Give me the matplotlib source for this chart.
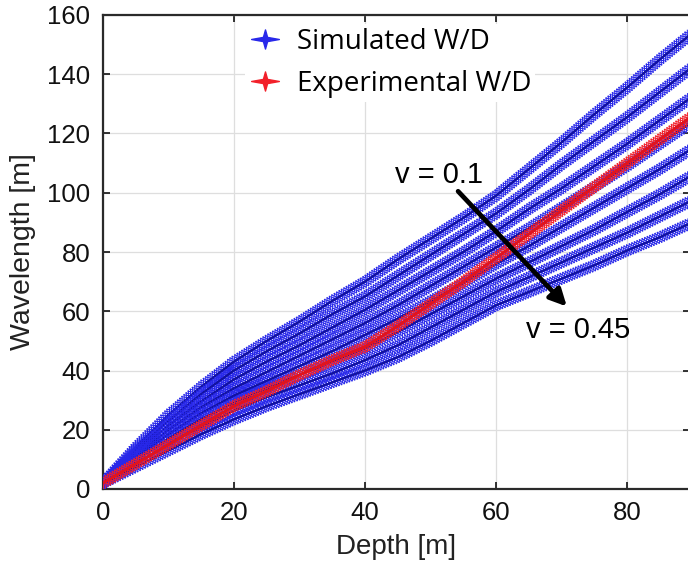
import numpy as np
import matplotlib
matplotlib.use("Agg")
import matplotlib.pyplot as plt
from matplotlib.path import Path
from matplotlib.lines import Line2D
import matplotlib.patheffects as pe

# ---------------- data ----------------
depth = [0, 5, 10, 15, 20, 25, 30, 35, 40, 45, 50, 55, 60, 65, 70, 75, 80, 85, 90]

sim_v010 = [2, 14, 25, 34.5, 43, 50, 56.5, 63.5, 70, 77.5, 84.5, 91.5, 99, 108, 117, 126.5, 135.5, 145, 154]
sim_v015 = [2, 13, 23, 32, 40, 46.5, 52.5, 59, 65, 72, 79, 86, 93, 101, 109.5, 117.5, 125.5, 134, 142.5]
sim_v020 = [2, 12, 21.5, 29.5, 37, 43, 48.5, 54.5, 60.5, 67, 73.5, 80, 87, 94.5, 101.5, 109, 116.5, 124.5, 132.5]
sim_v025 = [2, 11, 20, 27.5, 34, 39.5, 45, 50.5, 56, 62, 68.5, 75, 81.5, 88, 95, 102, 109, 116.5, 124]
sim_v030 = [2, 10.5, 18.5, 25.5, 31.5, 36.5, 41.5, 46.5, 52, 57.5, 63.5, 69.5, 76, 82, 88.5, 95, 101.5, 108, 115]
sim_v035 = [2, 9.5, 17, 23.5, 29, 34, 38.5, 43, 47.5, 53, 59, 65, 71, 76.5, 82, 87.5, 93.5, 99.5, 106]
sim_v040 = [2, 8.5, 15, 21, 26.5, 31, 35, 39, 43.5, 48.5, 54.5, 60.5, 66.5, 71.5, 76.5, 81.5, 86.5, 92, 97.5]
sim_v045 = [2, 7.5, 13, 18.5, 23.5, 28, 32, 36, 40, 44.5, 50, 56, 62, 66.5, 71, 75.5, 80.5, 85, 90]
simulated = [sim_v010, sim_v015, sim_v020, sim_v025, sim_v030, sim_v035, sim_v040, sim_v045]

experimental = [2, 8.5, 15, 21.5, 28, 33, 38.5, 43.5, 48, 55, 62.5, 70, 78, 86, 94, 102, 110, 118, 126]

x_ticks = [0, 20, 40, 60, 80]
y_ticks = [0, 20, 40, 60, 80, 100, 120, 140, 160]

BLUE = "#2828ea"
BLUE_D = "#1212a0"
RED = "#f2202a"
RED_D = "#e0141e"

# ---------------- figure ----------------
fig = plt.figure(figsize=(6.88, 5.67), dpi=100)
ax = fig.add_axes([103 / 688, 78 / 567, (690 - 103) / 688, (489 - 15) / 567])

def band(color):
    kw = dict(spacing=2.0, length=2.5, linewidth=0.75, foreground=color)
    return [
        pe.withTickedStroke(angle=50, **kw),
        pe.withTickedStroke(angle=130, **kw),
        pe.withTickedStroke(angle=-50, **kw),
        pe.withTickedStroke(angle=-130, **kw),
        pe.Normal(),
    ]

for s in simulated:
    ax.plot(depth, s, color=BLUE_D, lw=1.2, path_effects=band(BLUE), zorder=3)
ax.plot(depth, experimental, color=RED_D, lw=1.6, path_effects=band(RED), zorder=4)

ax.set_xlim(0, 89.6)
ax.set_ylim(0, 160)
ax.set_xticks(x_ticks)
ax.set_yticks(y_ticks)
ax.grid(True, color="#dedede", lw=0.9)
ax.set_axisbelow(True)

tick_font = "Liberation Sans"
ax.tick_params(direction="in", length=5, width=1.2, top=True, right=True,
               labelsize=18.5, colors="#111111", pad=9)
for lab in ax.get_xticklabels() + ax.get_yticklabels():
    lab.set_family(tick_font)
for sp in ax.spines.values():
    sp.set_linewidth(1.6)
    sp.set_color("#2a2a2a")

ax.set_xlabel("Depth [m]", fontsize=20, family=tick_font, color="#222222", labelpad=6)
ax.set_ylabel("Wavelength [m]", fontsize=20.5, family=tick_font, color="#222222", labelpad=8)

# annotation
ax.annotate("", xy=(70.8, 61.6), xytext=(54.2, 100.5),
            arrowprops=dict(arrowstyle="-|>,head_length=1.0,head_width=0.5",
                            color="black", lw=3.4, shrinkA=0, shrinkB=0), zorder=6)
ax.text(51.3, 106, "v = 0.1", fontsize=21, family=tick_font, ha="center", va="center", zorder=6)
ax.text(72.5, 53.8, "v = 0.45", fontsize=21, family=tick_font, ha="center", va="center", zorder=6)

# legend with 4-pointed star markers
star = Path([(0, 1), (0.22, 0.22), (1.45, 0), (0.22, -0.22), (0, -1),
             (-0.22, -0.22), (-1.45, 0), (-0.22, 0.22), (0, 1)],
            [Path.MOVETO] + [Path.LINETO] * 7 + [Path.CLOSEPOLY])
handles = [
    Line2D([], [], ls="none", marker=star, markersize=20, color=BLUE, markeredgecolor=BLUE),
    Line2D([], [], ls="none", marker=star, markersize=20, color=RED, markeredgecolor=RED),
]
leg = ax.legend(handles, ["Simulated W/D", "Experimental W/D"],
                loc="upper left", bbox_to_anchor=(0.235, 0.99),
                frameon=True, framealpha=1, edgecolor="none", facecolor="white",
                fancybox=False, prop={"family": "Open Sans", "size": 20},
                handlelength=1.1, handletextpad=0.6, labelspacing=0.5,
                borderpad=0.15, borderaxespad=0.15)
leg.set_zorder(7)

fig.savefig("out.png", dpi=100)
